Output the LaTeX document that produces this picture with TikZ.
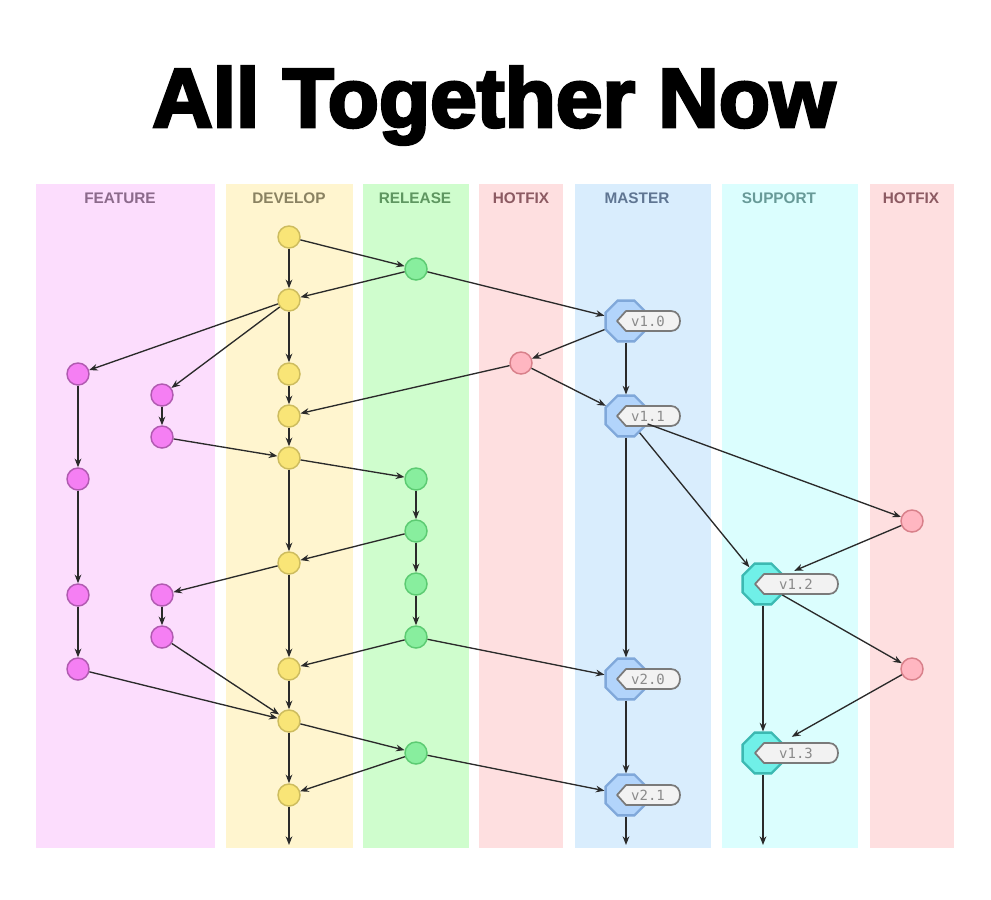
\documentclass[tikz,border=0pt]{standalone}
\usepackage{fontspec}
\setmainfont{Liberation Sans}
\newfontfamily\titlefont{Liberation Sans}[BoldFeatures={FakeBold=3.5}]
\newfontfamily\tagfont{DejaVu Sans Mono}
\usetikzlibrary{shapes.geometric,arrows.meta,calc}

\definecolor{featlane}{HTML}{FCDDFD}
\definecolor{devlane}{HTML}{FFF5CF}
\definecolor{rellane}{HTML}{CFFDCD}
\definecolor{hotlane}{HTML}{FEDFE0}
\definecolor{mastlane}{HTML}{D9EDFD}
\definecolor{supplane}{HTML}{DBFEFE}

\definecolor{featlab}{HTML}{8B6A8B}
\definecolor{devlab}{HTML}{8A8262}
\definecolor{rellab}{HTML}{5E9660}
\definecolor{hotlab}{HTML}{8C5A62}
\definecolor{mastlab}{HTML}{5F7592}
\definecolor{supplab}{HTML}{689A98}

\definecolor{featfill}{HTML}{F57FF3}
\definecolor{featdraw}{HTML}{B05AB0}
\definecolor{devfill}{HTML}{F9E577}
\definecolor{devdraw}{HTML}{CDBC5E}
\definecolor{relfill}{HTML}{88EE9E}
\definecolor{reldraw}{HTML}{5CCB72}
\definecolor{hotfill}{HTML}{FFB6C1}
\definecolor{hotdraw}{HTML}{D8808A}
\definecolor{mastfill}{HTML}{B2D4FB}
\definecolor{mastdraw}{HTML}{80A8DA}
\definecolor{suppfill}{HTML}{70F0E8}
\definecolor{suppdraw}{HTML}{3CB9B2}
\definecolor{arrowc}{HTML}{2A2A2A}
\definecolor{tagfill}{HTML}{F2F2F2}
\definecolor{tagdraw}{HTML}{7A7A7A}
\definecolor{tagtxt}{HTML}{8A8A8A}

\tikzset{
  lanebox/.style={draw=none},
  lanelabel/.style={font=\bfseries\fontsize{11.5pt}{12pt}\selectfont, inner sep=0},
  commit/.style={circle, minimum size=16.5pt, inner sep=0, line width=1.1pt},
  feat/.style={commit, fill=featfill, draw=featdraw},
  dev/.style={commit, fill=devfill, draw=devdraw},
  rel/.style={commit, fill=relfill, draw=reldraw},
  hot/.style={commit, fill=hotfill, draw=hotdraw},
  ver/.style={regular polygon, regular polygon sides=8, minimum size=33pt, inner sep=0, line width=1.8pt},
  mast/.style={ver, fill=mastfill, draw=mastdraw},
  supp/.style={ver, fill=suppfill, draw=suppdraw},
  flow/.style={draw=arrowc, line width=1pt, -{Stealth[length=6.5pt,width=5pt]}},
  tagline/.style={fill=tagfill, draw=tagdraw, line width=1.3pt, line join=round},
  tagtext/.style={font=\tagfont\fontsize{10.5pt}{10.5pt}\selectfont, text=tagtxt, inner sep=0},
}

% name, point x, y, right x, text x, text
\newcommand{\vtag}[6]{%
  \path[tagline] (#2,#3) -- ({#2+9},{#3-10}) -- ({#4-9},{#3-10})
     .. controls ({#4+3},{#3-10}) and ({#4+3},{#3+10}) .. ({#4-9},{#3+10})
     -- ({#2+9},{#3+10}) -- cycle;
  \node[tagtext] (#1) at (#5,#3) {#6};}

\begin{document}
\begin{tikzpicture}[x=0.75pt,y=-0.75pt]
\useasboundingbox (0,0) rectangle (991,899);
\fill[white] (0,0) rectangle (991,899);

% title
\node[anchor=base west, inner sep=0] (title) at (152,127)
  {\resizebox{512pt}{45.5pt}{\titlefont\bfseries All Together Now}};

% lanes
\fill[featlane] (36,184) rectangle (215,848);
\fill[devlane]  (226,184) rectangle (353,848);
\fill[rellane]  (363,184) rectangle (469,848);
\fill[hotlane]  (479,184) rectangle (563,848);
\fill[mastlane] (575,184) rectangle (711,848);
\fill[supplane] (722,184) rectangle (858,848);
\fill[hotlane]  (870,184) rectangle (954,848);

\node[lanelabel, text=featlab] (lf) at (120,198) {FEATURE};
\node[lanelabel, text=devlab]  (ld) at (289,198) {DEVELOP};
\node[lanelabel, text=rellab]  (lr) at (415,198) {RELEASE};
\node[lanelabel, text=hotlab]  (lh) at (521,198) {HOTFIX};
\node[lanelabel, text=mastlab] (lm) at (637,198) {MASTER};
\node[lanelabel, text=supplab] (ls) at (779,198) {SUPPORT};
\node[lanelabel, text=hotlab]  (lh2) at (911,198) {HOTFIX};

% develop
\node[dev] (d1) at (289,237) {};
\node[dev] (d2) at (289,300) {};
\node[dev] (d3) at (289,374) {};
\node[dev] (d4) at (289,416) {};
\node[dev] (d5) at (289,458) {};
\node[dev] (d6) at (289,563) {};
\node[dev] (d7) at (289,669) {};
\node[dev] (d8) at (289,721) {};
\node[dev] (d9) at (289,795) {};
\coordinate (dend) at (289,845);

% release
\node[rel] (r1) at (416,269) {};
\node[rel] (r2) at (416,479) {};
\node[rel] (r3) at (416,531) {};
\node[rel] (r4) at (416,584) {};
\node[rel] (r5) at (416,637) {};
\node[rel] (r6) at (416,753) {};

% hotfix
\node[hot] (x1) at (521,363) {};
\node[hot] (h1) at (912,521) {};
\node[hot] (h2) at (912,669) {};

% feature
\node[feat] (f1) at (78,374) {};
\node[feat] (f2) at (78,479) {};
\node[feat] (f3) at (78,595) {};
\node[feat] (f4) at (78,669) {};
\node[feat] (f5) at (162,395) {};
\node[feat] (f6) at (162,437) {};
\node[feat] (f7) at (162,595) {};
\node[feat] (f8) at (162,637) {};

% master
\node[mast] (m1) at (626,321) {};
\node[mast] (m2) at (626,416) {};
\node[mast] (m3) at (626,679) {};
\node[mast] (m4) at (626,795) {};
\coordinate (mend) at (626,845);

% support
\node[supp] (s1) at (763,584) {};
\node[supp] (s2) at (763,753) {};
\coordinate (send) at (763,845);

% tags
\vtag{t1}{617}{321}{680}{648}{v1.0}
\vtag{t2}{617}{416}{680}{648}{v1.1}
\vtag{t3}{617}{679}{680}{648}{v2.0}
\vtag{t4}{617}{795}{680}{648}{v2.1}
\vtag{t5}{755}{584}{838}{796}{v1.2}
\vtag{t6}{755}{753}{838}{796}{v1.3}

% edges
\draw[flow] (d1) -- (d2);
\draw[flow] (d1) -- (r1);
\draw[flow] (r1) -- (d2);
\draw[flow] (r1) -- (m1);
\draw[flow] (d2) -- (f1);
\draw[flow] (d2) -- (f5);
\draw[flow] (d2) -- (d3);
\draw[flow] (d3) -- (d4);
\draw[flow] (m1) -- (x1);
\draw[flow] (x1) -- (m2);
\draw[flow] (x1) -- (d4);
\draw[flow] (m1) -- (m2);
\draw[flow] (f1) -- (f2);
\draw[flow] (f2) -- (f3);
\draw[flow] (f3) -- (f4);
\draw[flow] (f5) -- (f6);
\draw[flow] (f6) -- (d5);
\draw[flow] (d4) -- (d5);
\draw[flow] (d5) -- (r2);
\draw[flow] (d5) -- (d6);
\draw[flow] (r2) -- (r3);
\draw[flow] (r3) -- (d6);
\draw[flow] (r3) -- (r4);
\draw[flow] (r4) -- (r5);
\draw[flow] (d6) -- (f7);
\draw[flow] (f7) -- (f8);
\draw[flow] (f8) -- (d8);
\draw[flow] (f4) -- (d8);
\draw[flow] (d6) -- (d7);
\draw[flow] (r5) -- (d7);
\draw[flow] (r5) -- (m3);
\draw[flow] (d7) -- (d8);
\draw[flow] (d8) -- (r6);
\draw[flow] (d8) -- (d9);
\draw[flow] (r6) -- (d9);
\draw[flow] (r6) -- (m4);
\draw[flow] (d9) -- (dend);
\draw[flow] (m2) -- (m3);
\draw[flow] (m3) -- (m4);
\draw[flow] (m4) -- (mend);
\draw[flow] (m2) -- (h1);
\draw[flow] (m2) -- (s1);
\draw[flow, shorten >=8pt] (h1) -- (s1);
\draw[flow] (s1) -- (h2);
\draw[flow] (s1) -- (s2);
\draw[flow, shorten >=8pt] (h2) -- (s2);
\draw[flow] (s2) -- (send);
\end{tikzpicture}
\end{document}
